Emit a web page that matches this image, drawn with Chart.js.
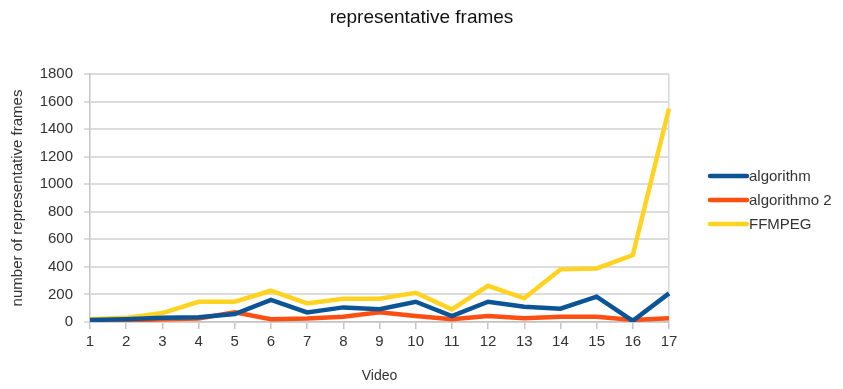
<!DOCTYPE html>
<html>
<head>
<meta charset="utf-8">
<script src="https://cdn.jsdelivr.net/npm/chart.js@4/dist/chart.umd.min.js"></script>
<style>
  html, body { margin: 0; padding: 0; background: #ffffff; }
  #wrap { width: 843px; height: 389px; position: relative; }
</style>
</head>
<body>
<div id="wrap"><canvas id="c"></canvas></div>
<script>
// Video numbers on the x axis
const videos = ['1','2','3','4','5','6','7','8','9','10','11','12','13','14','15','16','17'];

// Representative frames found per video
const algorithm   = [15, 20, 30, 34, 58, 160, 70, 106, 92, 147, 43, 147, 111, 97, 184, 8, 208];
const algorithmo2 = [10, 10, 20, 25, 70, 20, 25, 38, 70, 43, 20, 43, 27, 38, 38, 15, 27];
const ffmpeg      = [20, 30, 65, 147, 147, 227, 135, 169, 169, 212, 92, 263, 172, 382, 389, 486, 1550];

const seriesNames  = ['algorithm', 'algorithmo 2', 'FFMPEG'];
const seriesColors = ['#0b5597', '#ff4e12', '#ffd320'];
const chartTitle   = 'representative frames';

const FONT = '"Liberation Sans", Arial, sans-serif';
const TEXT = '#333333';

// Title centred across the whole canvas
const pageTitle = {
  id: 'pageTitle',
  afterDraw(chart) {
    const ctx = chart.ctx;
    ctx.save();
    ctx.font = '19px ' + FONT;
    ctx.fillStyle = '#111111';
    ctx.textAlign = 'center';
    ctx.textBaseline = 'middle';
    ctx.fillText(chartTitle, chart.width / 2, 18);
    ctx.restore();
  }
};

// Legend drawn at the right of the plot
const sideLegend = {
  id: 'sideLegend',
  afterDraw(chart) {
    const ctx = chart.ctx;
    const rows = [176, 200, 224];
    ctx.save();
    ctx.font = '15px ' + FONT;
    ctx.textBaseline = 'middle';
    ctx.textAlign = 'left';
    chart.data.datasets.forEach((ds, i) => {
      const y = rows[i];
      ctx.strokeStyle = ds.borderColor;
      ctx.lineWidth = 4.5;
      ctx.lineCap = 'round';
      ctx.beginPath();
      ctx.moveTo(710, y);
      ctx.lineTo(747, y);
      ctx.stroke();
      ctx.fillStyle = TEXT;
      ctx.fillText(ds.label, 749, y + 1);
    });
    ctx.restore();
  }
};

new Chart(document.getElementById('c'), {
  type: 'line',
  data: {
    labels: videos,
    datasets: [
      { label: seriesNames[0], data: algorithm,   borderColor: seriesColors[0], backgroundColor: seriesColors[0] },
      { label: seriesNames[1], data: algorithmo2, borderColor: seriesColors[1], backgroundColor: seriesColors[1] },
      { label: seriesNames[2], data: ffmpeg,      borderColor: seriesColors[2], backgroundColor: seriesColors[2] }
    ]
  },
  options: {
    responsive: true,
    maintainAspectRatio: false,
    animation: false,
    devicePixelRatio: 1,
    elements: {
      line: { borderWidth: 4.5, tension: 0, borderJoinStyle: 'miter', borderCapStyle: 'butt' },
      point: { radius: 0, hoverRadius: 0 }
    },
    layout: { padding: { left: 0, right: 174, top: 74, bottom: 0 } },
    plugins: {
      legend: { display: false },
      tooltip: { enabled: false },
      title: { display: false }
    },
    scales: {
      x: {
        offset: false,
        grid: {
          drawOnChartArea: true,
          color: (c) => c.index === videos.length - 1 ? '#d6d6d6' : 'rgba(0,0,0,0)',
          tickColor: '#c4c4c4',
          tickLength: 7,
          lineWidth: 1.5
        },
        border: { color: '#c4c4c4', width: 1.5 },
        ticks: { color: TEXT, font: { family: FONT, size: 15 }, padding: 4, maxRotation: 0, autoSkip: false },
        title: { display: true, text: 'Video', color: TEXT, font: { family: FONT, size: 14 }, padding: { top: 0, bottom: 4 } },
        afterFit(scale) { scale.height = 67; }
      },
      y: {
        min: 0,
        max: 1800,
        ticks: { stepSize: 200, color: TEXT, font: { family: FONT, size: 15 }, padding: 11, callback: (v) => String(v) },
        grid: { color: '#dcdcdc', lineWidth: 2, tickLength: 6, tickColor: '#dcdcdc' },
        border: { color: '#c4c4c4', width: 1.5 },
        title: { display: true, text: 'number of representative frames', color: TEXT, font: { family: FONT, size: 15 }, padding: { top: 9, bottom: 0 } },
        afterFit(scale) { scale.width = 90; }
      }
    }
  },
  plugins: [pageTitle, sideLegend]
});
</script>
</body>
</html>
